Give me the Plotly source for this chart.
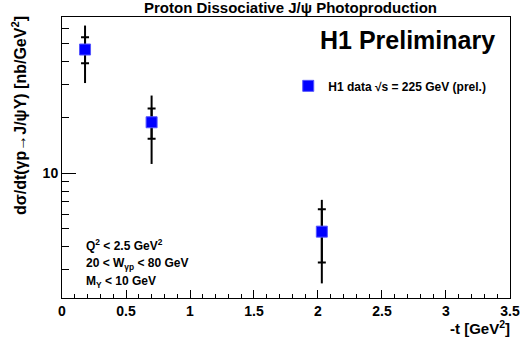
import plotly.graph_objects as go

# data
t_vals = [0.18, 0.70, 2.03]
dsdt = [46.4, 18.8, 4.83]
stat_up = [7.7, 3.5, 1.55]
stat_dn = [7.3, 3.5, 1.54]
tot_up = [16.1, 7.4, 2.34]
tot_dn = [15.8, 7.6, 2.29]

x_ticks = [0, 0.5, 1, 1.5, 2, 2.5, 3, 3.5]
x_tick_text = ["0", "0.5", "1", "1.5", "2", "2.5", "3", "3.5"]
x_minor = [round(0.1 * i, 1) for i in range(36)]
y_ticks = [10]
y_minor = [3, 4, 5, 6, 7, 8, 9, 20, 30, 40, 50, 60]

FONT = "Liberation Sans, Arial, Helvetica, sans-serif"
W, H = 520, 340
ML, MR, MT, MB = 62, 10, 17, 42

fig = go.Figure()
fig.add_trace(go.Scatter(
    x=t_vals, y=dsdt, mode="markers",
    marker=dict(size=1, color="rgba(0,0,0,0)"),
    error_y=dict(type="data", symmetric=False, array=tot_up, arrayminus=tot_dn,
                 color="black", thickness=2, width=0),
    showlegend=False, hoverinfo="skip"))
fig.add_trace(go.Scatter(
    x=t_vals, y=dsdt, mode="markers",
    marker=dict(symbol="square", size=11, color="#0000ff",
                line=dict(color="#5555ff", width=1)),
    error_y=dict(type="data", symmetric=False, array=stat_up, arrayminus=stat_dn,
                 color="black", thickness=2, width=4),
    name="<b>H1 data √s = 225 GeV (prel.)</b>", showlegend=True))

fig.update_layout(
    width=W, height=H,
    margin=dict(l=ML, r=MR, t=MT, b=MB),
    paper_bgcolor="white", plot_bgcolor="white",
    font=dict(family=FONT, color="black"),
    showlegend=True,
    legend=dict(x=0.505, y=0.755, xanchor="left", yanchor="middle",
                bgcolor="rgba(0,0,0,0)", font=dict(size=12, family=FONT),
                itemwidth=30),
    xaxis=dict(range=[0, 3.5001], tickvals=x_ticks, ticktext=x_tick_text,
               ticklabeloverflow="allow", automargin=False,
               ticks="inside", ticklen=8, tickwidth=1, tickcolor="black",
               showline=True, linecolor="black", linewidth=1, mirror=True,
               showgrid=False, zeroline=False,
               tickfont=dict(size=14, family=FONT, weight="bold"),
               minor=dict(tickvals=x_minor, ticks="inside", ticklen=4,
                          tickcolor="black", tickwidth=1, showgrid=False)),
    yaxis=dict(type="log", range=[0.326, 1.842], tickvals=y_ticks,
               ticktext=["10"], automargin=False,
               ticks="inside", ticklen=14, tickwidth=1, tickcolor="black",
               showline=True, linecolor="black", linewidth=1, mirror=True,
               showgrid=False, zeroline=False,
               tickfont=dict(size=14, family=FONT, weight="bold"),
               minor=dict(tickvals=y_minor, ticks="inside", ticklen=7,
                          tickcolor="black", tickwidth=1, showgrid=False)),
)

annotations = [
    dict(text="<b>Proton Dissociative J/ψ Photoproduction</b>", x=290, y=8,
         font=dict(size=15)),
    dict(text="<b>H1 Preliminary</b>", x=497, y=40, xanchor="right",
         font=dict(size=25)),
    dict(text="<b>-t [GeV<sup>2</sup>]</b>", x=512, y=327, xanchor="right",
         font=dict(size=15)),
    dict(text="<b>dσ/dt(γp→J/ψY) [nb/GeV<sup>2</sup>]</b>", x=19, y=116,
         textangle=-90, font=dict(size=16)),
    dict(text="<b>Q<sup>2</sup> < 2.5 GeV<sup>2</sup></b>", x=84, y=245,
         xanchor="left", font=dict(size=12)),
    dict(text="<b>20 < W<sub>γp</sub> < 80 GeV</b>", x=84, y=264,
         xanchor="left", font=dict(size=12)),
    dict(text="<b>M<sub>Y</sub> < 10 GeV</b>", x=84, y=282,
         xanchor="left", font=dict(size=12)),
]
PW, PH = W - ML - MR, H - MT - MB
for a in annotations:
    px, py = a.pop("x"), a.pop("y")
    fig.add_annotation(x=(px - ML) / PW, y=(H - MB - py) / PH,
                       xref="paper", yref="paper",
                       showarrow=False, yanchor="middle",
                       xanchor=a.pop("xanchor", "center"), **a)

fig.write_html("out.html")
